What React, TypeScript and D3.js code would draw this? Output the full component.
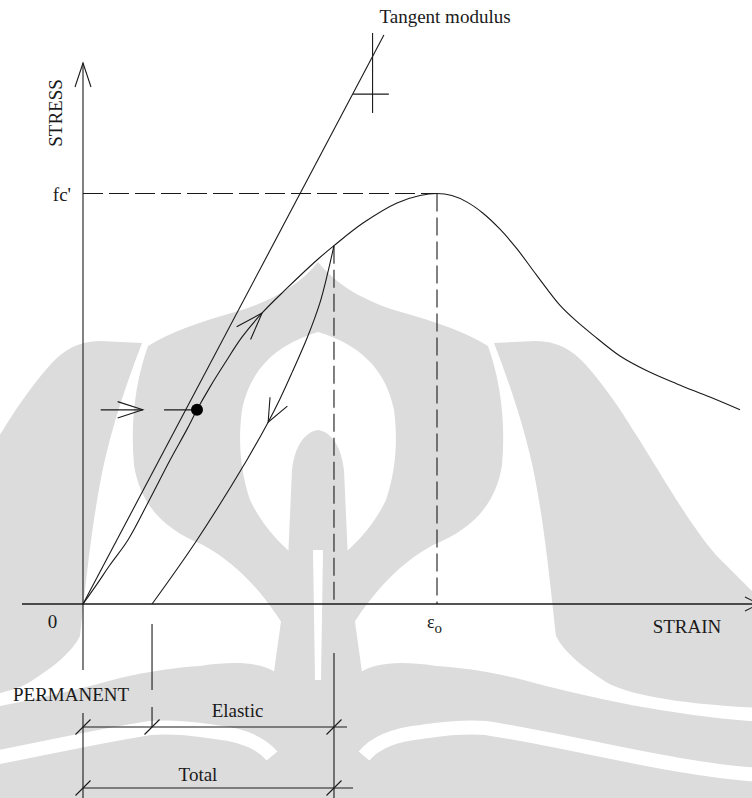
import React from 'react';
import * as d3 from 'd3';

// Values are normalised: strain / ε0 and stress / fc'
const envelopeStrain = [0, 0.040, 0.076, 0.127, 0.189, 0.246, 0.294, 0.322, 0.359, 0.401, 0.449, 0.506, 0.571, 0.661,
  0.709, 0.791, 0.887, 0.952, 1.0,
  1.042, 1.085, 1.130, 1.178, 1.226, 1.271, 1.311, 1.347, 1.390, 1.441, 1.517, 1.593, 1.678, 1.771, 1.856];
const envelopeStress = [0, 0.049, 0.095, 0.156, 0.256, 0.351, 0.426, 0.473, 0.529, 0.587, 0.650, 0.709, 0.765, 0.838,
  0.873, 0.928, 0.977, 0.995, 1.0,
  0.995, 0.979, 0.952, 0.913, 0.865, 0.813, 0.767, 0.728, 0.692, 0.655, 0.604, 0.568, 0.536, 0.504, 0.473];

const unloadStrain = [0.195, 0.322, 0.463, 0.523, 0.556, 0.590, 0.633, 0.669, 0.692, 0.709];
const unloadStress = [0, 0.156, 0.351, 0.443, 0.499, 0.563, 0.648, 0.733, 0.809, 0.873];

const tangentStrain = [0, 0.850];
const tangentStress = [0, 1.386];

const peakStrain = 1;
const peakStress = 1;
const unloadPointStrain = 0.709;
const unloadPointStress = 0.873;
const permanentStrain = 0.195;

const dotStrain = 0.322;
const dotStress = 0.473;

// slope markers on the tangent line
const tickVStrain = 0.818;
const tickVStress = [1.196, 1.391];
const tickHStress = 1.242;
const tickHStrain = [0.763, 0.864];

const axisLabels = { stress: 'STRESS', strain: 'STRAIN', origin: '0', fc: "fc'", eps: 'ε', epsSub: 'o' };
const dimLabels = { permanent: 'PERMANENT', elastic: 'Elastic', total: 'Total', tangent: 'Tangent modulus' };

const W = 752;
const H = 798;
const FONT = "'Liberation Serif', 'Times New Roman', serif";
const INK = '#1a1a1a';
const WM = '#dcdcdc';

// background watermark (decorative; left half, mirrored about x = 318)
const wmGray = [
  // outer wing
  'M142,343 L100,341 C80,341 64,349 50,365 C30,388 15,410 3,430 C-20,465 -50,520 -80,555 C-100,575 -115,590 -125,600 L-125,708 C-40,704 10,694 30,682 C55,666 72,652 80,636 C84,600 90,540 98,495 C106,445 122,395 142,343 Z',
  // flame band
  'M318,262 C300,285 270,302 235,312 C200,322 170,332 148,346 C136,380 130,420 134,465 C140,505 165,530 203,545 C240,565 270,600 292,640 L300,660 L300,560 C280,545 262,525 250,500 C240,470 238,440 242,410 C250,370 275,345 318,332 Z',
  // central stem
  'M318,430 C305,432 295,445 292,470 L288,560 C285,600 278,640 273,680 L270,798 L318,798 Z',
  // bottom band
  'M-125,722 C-40,716 40,700 120,678 C150,671 180,667 200,666 C240,660 262,664 275,672 L275,798 L-125,798 Z',
];
const wmWhite = [
  'M313,550 L318,550 L318,680 L315,680 Z',
];
const wmWhiteStroke = [
  'M-125,775 C-40,770 60,742 150,728 C180,726 200,730 215,732 C245,735 262,744 272,756',
];

export default function App() {
  const x = d3.scaleLinear().domain([0, 1]).range([83, 437]);
  const y = d3.scaleLinear().domain([0, 1]).range([604, 193.5]);

  const mk = () => d3.line<[number, number]>().x(d => x(d[0])).y(d => y(d[1]));
  const envPts: [number, number][] = envelopeStrain.map((s, i) => [s, envelopeStress[i]]);
  const unlPts: [number, number][] = unloadStrain.map((s, i) => [s, unloadStress[i]]);
  const envPath = mk().curve(d3.curveCatmullRom.alpha(0.5))(envPts) || '';
  const unlPath = mk().curve(d3.curveCatmullRom.alpha(0.5))(unlPts) || '';
  const tanPath = mk()(tangentStrain.map((s, i) => [s, tangentStress[i]]) as [number, number][]) || '';

  const x0 = x(0);
  const xAxisY = y(0);
  const xPerm = x(permanentStrain);
  const xUnl = x(unloadPointStrain);

  const head = (tx: number, ty: number, bx: number, by: number, len = 27, halfDeg = 20) => {
    const a = Math.atan2(by, bx);
    const h = (halfDeg * Math.PI) / 180;
    const p1 = [tx + len * Math.cos(a + h), ty + len * Math.sin(a + h)];
    const p2 = [tx + len * Math.cos(a - h), ty + len * Math.sin(a - h)];
    return `M${p1[0]},${p1[1]}L${tx},${ty}L${p2[0]},${p2[1]}`;
  };

  const li = 11;
  const lt = [x(envPts[li][0]), y(envPts[li][1])];
  const lb = [x(envPts[li - 1][0]) - x(envPts[li + 1][0]), y(envPts[li - 1][1]) - y(envPts[li + 1][1])];
  const ui = 3;
  const ut = [x(unlPts[ui][0]), y(unlPts[ui][1])];
  const ub = [x(unlPts[ui + 2][0]) - x(unlPts[ui - 1][0]), y(unlPts[ui + 2][1]) - y(unlPts[ui - 1][1])];

  const dotX = x(dotStrain);
  const dotY = y(dotStress);

  const slash = (cx: number, cy: number) => `M${cx - 7.5},${cy + 7.5}L${cx + 7.5},${cy - 7.5}`;

  const elasticY = 727;
  const totalY = 788;

  return (
    <svg width={W} height={H} viewBox={`0 0 ${W} ${H}`} style={{ position: 'absolute', left: 0, top: 0, background: '#fff' }}>
      <rect width={W} height={H} fill="#fff" />
      <g>
        {[0, 1].map(m => (
          <g key={m} transform={m ? 'translate(636,0) scale(-1,1)' : undefined}>
            {wmGray.map((d, i) => <path key={i} d={d} fill={WM} />)}
            {wmWhite.map((d, i) => <path key={'w' + i} d={d} fill="#fff" />)}
            {wmWhiteStroke.map((d, i) => <path key={'s' + i} d={d} fill="none" stroke="#fff" strokeWidth={14} />)}
          </g>
        ))}
      </g>
      <g fill="none" stroke={INK} strokeWidth={1.1}>
        <line x1={22} y1={xAxisY} x2={752} y2={xAxisY} strokeWidth={1.6} />
        <path d={`M745,${xAxisY - 7}L759,${xAxisY}L745,${xAxisY + 7}`} />
        <line x1={x0} y1={63} x2={x0} y2={670} />
        <line x1={x0} y1={713} x2={x0} y2={H} />
        <path d={`M${x0 - 8},87L${x0},63L${x0 + 8},87`} />

        <line x1={x0} y1={y(peakStress)} x2={x(peakStrain)} y2={y(peakStress)} strokeDasharray="20,6" />
        <line x1={x(peakStrain)} y1={y(peakStress)} x2={x(peakStrain)} y2={xAxisY} strokeDasharray="18,6" />
        <line x1={xUnl} y1={y(unloadPointStress)} x2={xUnl} y2={xAxisY} strokeDasharray="18,6" />
        <line x1={xUnl} y1={653} x2={xUnl} y2={H} />

        <path d={tanPath} />
        <path d={envPath} />
        <path d={unlPath} />

        <line x1={x(tickVStrain)} y1={y(tickVStress[1])} x2={x(tickVStrain)} y2={y(tickVStress[0])} />
        <line x1={x(tickHStrain[0])} y1={y(tickHStress)} x2={x(tickHStrain[1])} y2={y(tickHStress)} />

        <path d={head(lt[0], lt[1], lb[0], lb[1], 29, 19)} />
        <path d={head(ut[0], ut[1], ub[0], ub[1], 25, 23)} />

        <line x1={x(0.05)} y1={dotY} x2={x(0.169)} y2={dotY} />
        <path d={head(x(0.169), dotY, -1, 0, 26.5, 18)} />
        <line x1={x(0.229)} y1={dotY} x2={dotX} y2={dotY} />

        <line x1={xPerm} y1={624} x2={xPerm} y2={690} />
        <line x1={xPerm} y1={707} x2={xPerm} y2={elasticY} />

        <line x1={x0} y1={elasticY} x2={xUnl + 13} y2={elasticY} />
        <path d={slash(x0, elasticY)} />
        <path d={slash(xPerm, elasticY)} />
        <path d={slash(xUnl, elasticY)} />
        <line x1={x0} y1={totalY} x2={xUnl + 19} y2={totalY} />
        <path d={slash(x0, totalY)} />
        <path d={slash(xUnl, totalY)} />
      </g>
      <circle cx={dotX} cy={dotY} r={6} fill="#000" />

      <g fontFamily={FONT} fontSize={19} fill={INK}>
        <text x={445} y={23} textAnchor="middle">{dimLabels.tangent}</text>
        <text transform={`translate(61.5,113) rotate(-90)`} textAnchor="middle">{axisLabels.stress}</text>
        <text x={71} y={201} textAnchor="end">{axisLabels.fc}</text>
        <text x={52.5} y={628} textAnchor="middle">{axisLabels.origin}</text>
        <text x={427} y={628} fontSize={18}>{axisLabels.eps}<tspan fontSize={15} dy={5}>{axisLabels.epsSub}</tspan></text>
        <text x={687} y={633} textAnchor="middle">{axisLabels.strain}</text>
        <text x={13} y={701}>{dimLabels.permanent}</text>
        <text x={237.5} y={717} textAnchor="middle">{dimLabels.elastic}</text>
        <text x={198} y={781} textAnchor="middle">{dimLabels.total}</text>
      </g>
    </svg>
  );
}
